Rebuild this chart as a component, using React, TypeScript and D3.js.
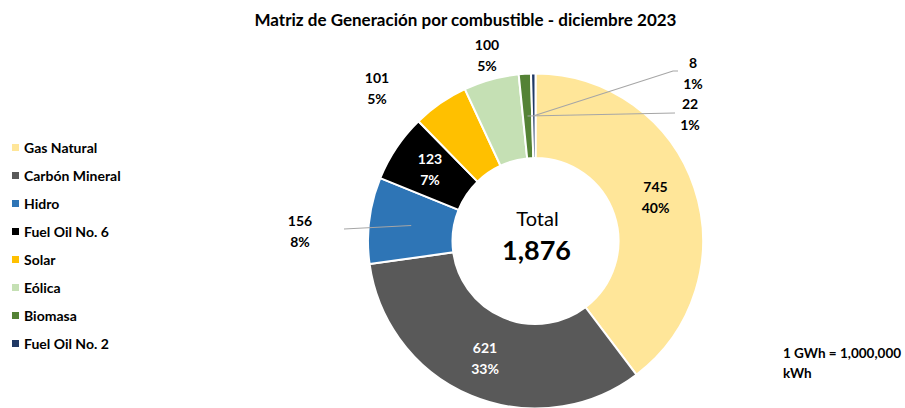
import React from "react";
import * as d3 from "d3";

const categories = ["Gas Natural", "Carbón Mineral", "Hidro", "Fuel Oil No. 6", "Solar", "Eólica", "Biomasa", "Fuel Oil No. 2"];
const values = [745, 621, 156, 123, 101, 100, 22, 8];
const percents = ["40%", "33%", "8%", "7%", "5%", "5%", "1%", "1%"];
const colors = ["#FFE699", "#595959", "#2E75B6", "#000000", "#FFC000", "#C5E0B4", "#548235", "#203864"];
const labelColors = ["#000", "#fff", "#000", "#fff", "#000", "#000", "#000", "#000"];
// label block centre relative to donut centre (layout only)
const labelOffsets: [number, number][] = [
  [120, -44], [-50.5, 117], [-235.5, -10], [-105.5, -72],
  [-158.5, -153], [-48.5, -186], [154.5, -127], [157.5, -168],
];
// leader line bend points relative to donut centre (empty = no leader)
const leaderPoints: [number, number][][] = [
  [], [], [[-191.5, -12]], [], [], [], [[139.5, -128]], [[137.5, -170], [142.5, -170]],
];
const totalLabel = "1,876";

const W = 905, H = 408;
const cx = 535.5, cy = 241, R = 167.5, r = 83;
const FONT = "Lato, 'Open Sans', sans-serif";

export default function App() {
  const pie = d3.pie<number>().sort(null).value((d) => d)(values);
  const arc = d3.arc<d3.PieArcDatum<number>>().innerRadius(r).outerRadius(R);
  const midArc = d3.arc<d3.PieArcDatum<number>>().innerRadius((r + R) / 2).outerRadius((r + R) / 2);
  const legendY = d3.scalePoint<string>().domain(categories).range([148, 344]);
  const line = d3.line();

  return (
    <svg width={W} height={H} style={{ position: "absolute", left: 0, top: 0, background: "#fff" }} fontFamily={FONT}>
      <text x={465.5} y={26} textAnchor="middle" fontWeight="bold" fontSize={17} fill="#000">
        Matriz de Generación por combustible - diciembre 2023
      </text>
      <g transform={`translate(${cx},${cy})`}>
        {pie.map((p, i) => (
          <path key={i} d={arc(p) || ""} fill={colors[i]} stroke="#fff" strokeWidth={2} strokeLinejoin="round" />
        ))}
        {pie.map((p, i) => {
          const pts = leaderPoints[i];
          if (!pts.length) return null;
          const start = midArc.centroid(p) as [number, number];
          return <path key={"l" + i} d={line([start, ...pts]) || ""} fill="none" stroke="#A6A6A6" strokeWidth={1.2} />;
        })}
        {pie.map((p, i) => {
          const [lx, ly] = labelOffsets[i];
          return (
            <text key={"t" + i} x={lx} textAnchor="middle" fontWeight="bold" fontSize={14} fill={labelColors[i]}>
              <tspan x={lx} y={ly - 5}>{values[i]}</tspan>
              <tspan x={lx} y={ly + 16}>{percents[i]}</tspan>
            </text>
          );
        })}
        <text x={2} y={-15} textAnchor="middle" fontSize={20} fill="#000">Total</text>
        <text x={1} y={19} textAnchor="middle" fontSize={27} fontWeight="bold" fill="#000">{totalLabel}</text>
      </g>
      {categories.map((c, i) => (
        <g key={c} transform={`translate(0,${legendY(c)})`}>
          <rect x={12} y={-4} width={7} height={7} fill={colors[i]} />
          <text x={24} y={5} fontSize={14} fontWeight="bold" fill="#000">{c}</text>
        </g>
      ))}
      <text x={783} y={358} fontSize={13.5} fontWeight="bold" fill="#000">1 GWh = 1,000,000</text>
      <text x={783} y={377.5} fontSize={13.5} fontWeight="bold" fill="#000">kWh</text>
    </svg>
  );
}
